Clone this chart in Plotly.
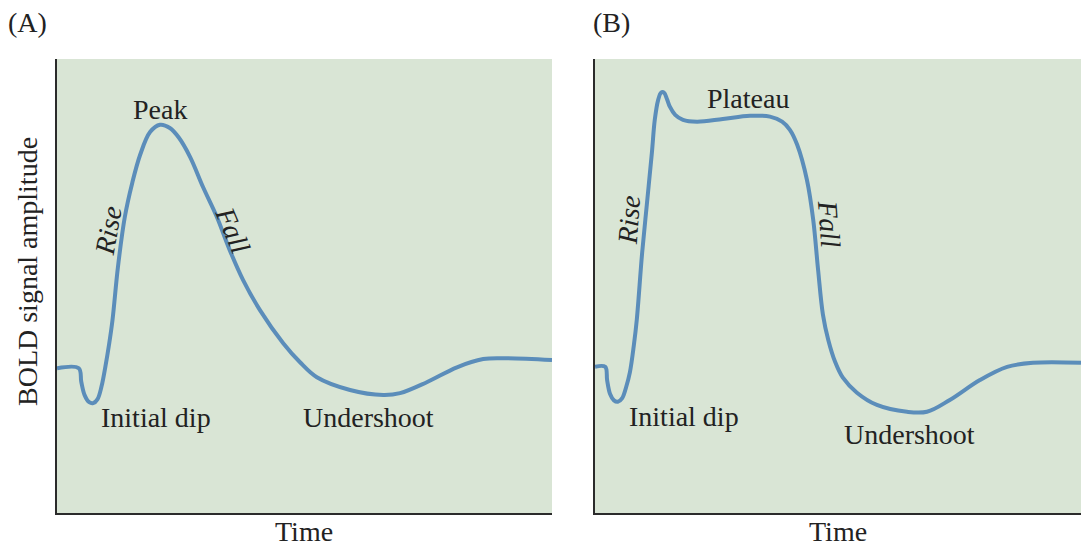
import plotly.graph_objects as go

# (A) Transient BOLD response: time (a.u.) and signal change (a.u., baseline = 0)
time_a = [0, 4.4, 4.9, 5.6, 6.5, 7.3, 8.2, 9.0, 9.8, 10.5, 11.2, 12.3, 13.7, 15.2, 16.8,
          18.8, 20.8, 22.8, 24.6, 26.9, 29.5, 32.3, 34.9, 37.6, 41.0, 45.7, 49.1, 52.5,
          59.2, 65.9, 69.3, 74.7, 80.8, 86.1, 90.1, 100]
signal_a = [0, 0, -3.0, -6.0, -7.5, -7.7, -6.8, -4.0, 0.5, 5.1, 10.5, 22.2, 33.3, 40.8, 47.0,
            52.0, 53.6, 52.9, 50.8, 46.5, 39.9, 33.3, 26.0, 19.4, 12.8, 5.5, 1.3, -2.0,
            -4.8, -5.9, -5.5, -3.1, 0.2, 2.0, 2.2, 1.8]

# (B) Sustained BOLD response with plateau
time_b = [0, 2.1, 2.5, 3.1, 3.9, 4.7, 5.6, 6.4, 7.2, 8.0, 8.6, 9.7, 10.7, 11.7, 12.3,
          13.0, 13.6, 14.2, 14.8, 15.4, 16.5, 18.1, 21.0, 26.3, 31.9, 36.0, 38.5, 40.1,
          41.6, 43.6, 44.9, 45.9, 46.9, 48.0, 49.4, 51.0, 53.9, 58.0, 64.2, 68.3,
          73.0, 79.2, 84.8, 90.1, 100]
signal_b = [0, 0, -3.0, -6.0, -7.4, -7.7, -6.9, -4.5, -1.1, 4.8, 10.4, 25.1, 36.1, 47.1, 54.4,
            58.8, 60.4, 60.4, 59.0, 57.3, 55.5, 54.4, 54.0, 54.6, 55.3, 55.1, 54.0, 52.2,
            48.9, 41.2, 32.4, 21.4, 11.5, 5.9, 1.1, -2.4, -5.7, -8.4, -9.9, -9.9,
            -7.3, -2.9, 0, 0.9, 0.9]

BG = "#d9e5d5"
LINE = "#5b8dba"
FONT = "Liberation Serif"
TXT = "#222222"
FS = 28

fig = go.Figure()
fig.add_trace(go.Scatter(x=time_a, y=signal_a, mode="lines", xaxis="x", yaxis="y",
                         line=dict(color=LINE, width=4, shape="spline", smoothing=1.0),
                         showlegend=False, hoverinfo="skip"))
fig.add_trace(go.Scatter(x=time_b, y=signal_b, mode="lines", xaxis="x2", yaxis="y2",
                         line=dict(color=LINE, width=4, shape="spline", smoothing=1.0),
                         showlegend=False, hoverinfo="skip"))

W, H = 1081, 548
ax_common = dict(showgrid=False, zeroline=False, showticklabels=False, ticks="",
                 showline=True, linecolor="#2b2b2b", linewidth=2, mirror=False,
                 fixedrange=True)

fig.update_layout(
    width=W, height=H,
    margin=dict(l=0, r=0, t=0, b=0),
    paper_bgcolor="white",
    plot_bgcolor=BG,
    font=dict(family=FONT, size=FS, color=TXT),
    xaxis=dict(domain=[57 / W, 552 / W], range=[0, 100], anchor="y", **ax_common),
    yaxis=dict(domain=[1 - 513 / H, 1 - 59 / H], range=[-31.9, 68.1], anchor="x", **ax_common),
    xaxis2=dict(domain=[595 / W, 1.0], range=[0, 100], anchor="y2", **ax_common),
    yaxis2=dict(domain=[1 - 513 / H, 1 - 59 / H], range=[-32.2, 67.8], anchor="x2", **ax_common),
)

labels = [
    # panel A
    dict(x=20.8, y=57.0, xref="x", yref="y", text="Peak"),
    dict(x=10.3, y=30.4, xref="x", yref="y", text="<i>Rise</i>", textangle=-80),
    dict(x=35.6, y=30.4, xref="x", yref="y", text="<i>Fall</i>", textangle=67),
    dict(x=20.0, y=-10.8, xref="x", yref="y", text="Initial dip"),
    dict(x=63.0, y=-10.8, xref="x", yref="y", text="Undershoot"),
    # panel B
    dict(x=31.5, y=59.0, xref="x2", yref="y2", text="Plateau"),
    dict(x=7.0, y=32.2, xref="x2", yref="y2", text="<i>Rise</i>", textangle=-86),
    dict(x=48.1, y=31.5, xref="x2", yref="y2", text="<i>Fall</i>", textangle=86),
    dict(x=18.3, y=-11.0, xref="x2", yref="y2", text="Initial dip"),
    dict(x=64.8, y=-14.8, xref="x2", yref="y2", text="Undershoot"),
]
for a in labels:
    fig.add_annotation(showarrow=False, xanchor="center", yanchor="middle",
                       font=dict(family=FONT, size=FS, color=TXT), **a)

# panel letters and axis titles
paper_labels = [
    dict(x=27, y=22, text="(A)"),
    dict(x=611, y=22, text="(B)"),
    dict(x=27, y=272, text="BOLD signal amplitude", textangle=-90),
]
for p in paper_labels:
    fig.add_annotation(x=p["x"] / W, y=1 - p["y"] / H, xref="paper", yref="paper",
                       text=p["text"], textangle=p.get("textangle", 0),
                       xanchor="center", yanchor="middle", showarrow=False,
                       font=dict(family=FONT, size=FS, color=TXT))

# "Time" titles sit on the bottom edge of the page
for cx in (304, 838):
    fig.add_annotation(x=cx / W, y=0, xref="paper", yref="paper", text="Time",
                       xanchor="center", yanchor="bottom", showarrow=False,
                       borderpad=0, font=dict(family=FONT, size=FS, color=TXT))

fig.write_html("out.html")
